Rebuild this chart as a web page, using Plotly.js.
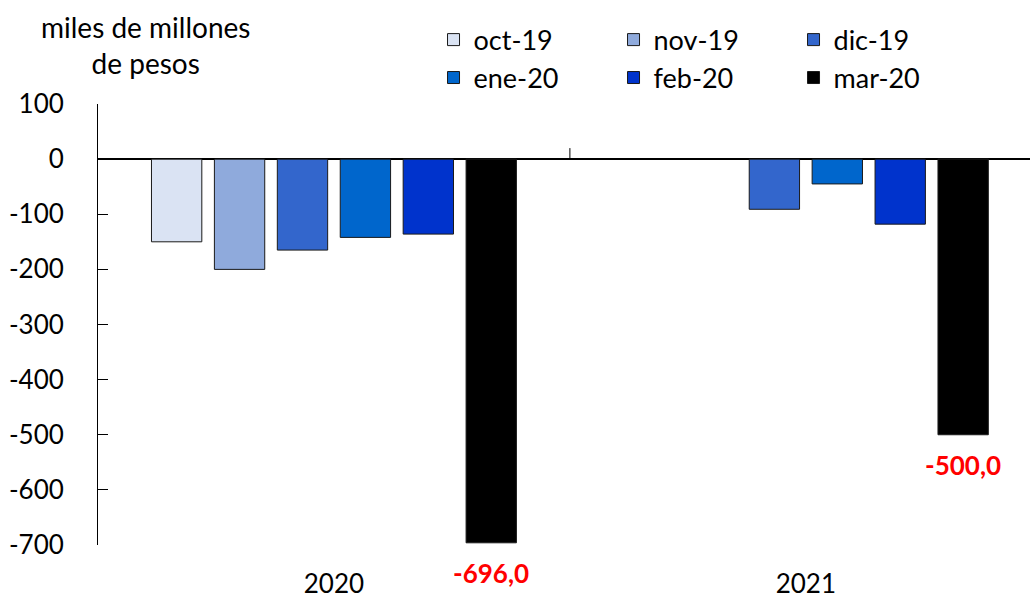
<!DOCTYPE html>
<html>
<head>
<meta charset="utf-8">
<script src="https://cdn.plot.ly/plotly-3.0.1.min.js"></script>
<style>
  html, body { margin: 0; padding: 0; background: #ffffff; }
  #chart { width: 1030px; height: 598px; }
</style>
</head>
<body>
<div id="chart"></div>
<script>
// Years on the category axis
const years = ['2020', '2021'];

// One series per monthly estimate (miles de millones de pesos)
const seriesNames = ['oct-19', 'nov-19', 'dic-19', 'ene-20', 'feb-20', 'mar-20'];
const oct19 = [-150, null];
const nov19 = [-200, null];
const dic19 = [-165, -91];
const ene20 = [-142, -45];
const feb20 = [-136, -118];
const mar20 = [-696, -500];

const seriesValues = [oct19, nov19, dic19, ene20, feb20, mar20];
const seriesColors = ['#DAE3F3', '#8FAADC', '#3366CC', '#0066CC', '#0033CC', '#000000'];

// Y axis ticks
const yTicks = [100, 0, -100, -200, -300, -400, -500, -600, -700];

const FONT = 'Lato, "Open Sans", sans-serif';
const FS = 26;
const BARGAP = 0.2;
const BARGROUPGAP = 0.2;

function fmt(v) {
  return v.toFixed(1).replace('.', ',');
}

const traces = seriesNames.map((name, i) => ({
  type: 'bar',
  name: name,
  x: years,
  y: seriesValues[i],
  // first three series in the top legend row, the rest in the second row
  legend: i < 3 ? 'legend' : 'legend2',
  marker: { color: seriesColors[i], line: { color: '#1a1a1a', width: 1 } },
  hoverinfo: 'skip'
}));

// Value labels under the last series' bars, placed at that series' slot in each group
const labelIdx = seriesNames.length - 1;
const slot = (1 - BARGAP) / seriesNames.length;
const slotOffset = -(1 - BARGAP) / 2 + (labelIdx + 0.5) * slot;
const valueLabels = seriesValues[labelIdx].map((v, k) => ({
  text: '<b>' + fmt(v) + '</b>',
  xref: 'x', yref: 'y',
  x: k + slotOffset, y: v,
  xanchor: 'center', yanchor: 'top', yshift: -12,
  showarrow: false,
  font: { family: FONT, size: FS, color: '#FF0000' }
}));

const legendBase = {
  orientation: 'h',
  xanchor: 'left',
  yanchor: 'middle',
  entrywidth: 135,
  entrywidthmode: 'pixels',
  font: { family: FONT, size: 27, color: '#000000' },
  bgcolor: 'rgba(0,0,0,0)',
  borderwidth: 0
};

const layout = {
  width: 1030,
  height: 598,
  margin: { l: 98, r: 0, t: 104, b: 53 },
  paper_bgcolor: '#ffffff',
  plot_bgcolor: '#ffffff',
  barmode: 'group',
  bargap: BARGAP,
  bargroupgap: BARGROUPGAP,
  font: { family: FONT, size: FS, color: '#000000' },
  showlegend: true,
  legend: Object.assign({}, legendBase, { x: 0.36, y: 1.145 }),
  legend2: Object.assign({}, legendBase, { x: 0.36, y: 1.059 }),
  xaxis: {
    type: 'category',
    range: [-0.5, 1.475],
    showline: false,
    showgrid: false,
    zeroline: false,
    ticks: '',
    tickfont: { family: FONT, size: FS, color: '#000000' },
    ticklabelstandoff: 21,
    fixedrange: true
  },
  yaxis: {
    range: [-700, 100],
    tickvals: yTicks,
    ticktext: yTicks.map(String),
    showline: true,
    linecolor: '#000000',
    linewidth: 1,
    ticks: 'inside',
    ticklen: 10,
    tickcolor: '#000000',
    showgrid: false,
    zeroline: true,
    zerolinecolor: '#000000',
    zerolinewidth: 1.5,
    tickfont: { family: FONT, size: FS, color: '#000000' },
    ticklabelstandoff: 28,
    fixedrange: true
  },
  shapes: [
    // category boundary tick on the zero axis
    { type: 'line', xref: 'x', yref: 'y', x0: 0.5, x1: 0.5, y0: 0, y1: 20,
      line: { color: '#000000', width: 1 } }
  ],
  annotations: [
    { text: 'miles de millones<br>de pesos', xref: 'paper', yref: 'paper',
      x: 0.051, y: 1.218, xanchor: 'center', yanchor: 'top', showarrow: false,
      align: 'center', font: { family: FONT, size: 28, color: '#000000' } }
  ].concat(valueLabels)
};

Plotly.newPlot('chart', traces, layout, { displayModeBar: false, staticPlot: true });
</script>
</body>
</html>
